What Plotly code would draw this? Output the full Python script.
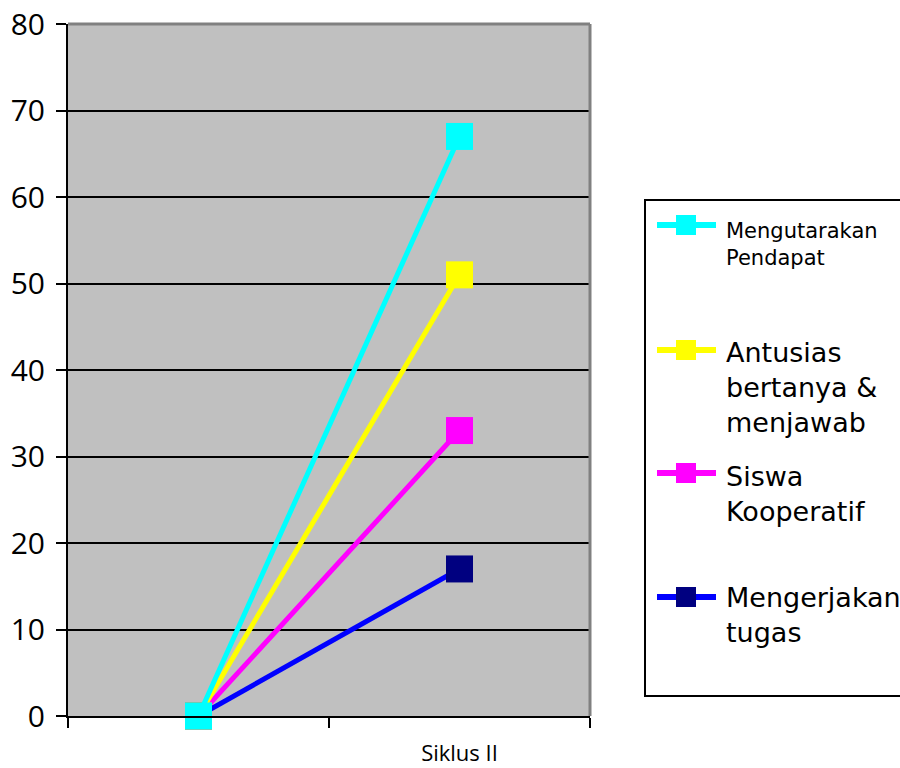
import plotly.graph_objects as go

# Observation cycles on the category axis
cycles = [0, 1]
cycle_labels = ["", "Siklus II"]

# Percentage scores per indicator
series_names = [
    "Mengutarakan<br>Pendapat",
    "Antusias<br>bertanya &<br>menjawab",
    "Siswa<br>Kooperatif",
    "Mengerjakan<br>tugas",
]
mengutarakan = [0, 67]
antusias = [0, 51]
kooperatif = [0, 33]
mengerjakan = [0, 17]

series_values = [mengutarakan, antusias, kooperatif, mengerjakan]
line_colors = ["#00FFFF", "#FFFF00", "#FF00FF", "#0000FF"]
marker_colors = ["#00FFFF", "#FFFF00", "#FF00FF", "#000080"]

# Pixel geometry of the plotting area (900 x 768 canvas)
W, H = 900, 768
L, R, T, B = 68, 590, 24, 716


def px(x):
    return (x - L) / (R - L)


def py(y):
    return (B - y) / (B - T)


fig = go.Figure()

# Draw the last series first so the first one ends up on top
for name, vals, lc, mc in reversed(list(zip(series_names, series_values, line_colors, marker_colors))):
    fig.add_trace(go.Scatter(
        x=cycles, y=vals, mode="lines+markers", name=name,
        line=dict(color=lc, width=5),
        marker=dict(symbol="square", size=27, color=mc, line=dict(width=0)),
        showlegend=False, cliponaxis=False,
    ))

shapes = []
annotations = []

# Gray frame on top and right edges of the plot area
shapes.append(dict(type="line", xref="paper", yref="paper", x0=0, x1=1, y0=1, y1=1,
                   line=dict(color="#808080", width=3), layer="above"))
shapes.append(dict(type="line", xref="paper", yref="paper", x0=1, x1=1, y0=0, y1=1,
                   line=dict(color="#808080", width=3), layer="above"))

# Legend box
shapes.append(dict(type="rect", xref="paper", yref="paper",
                   x0=px(645), x1=px(912), y0=py(696), y1=py(200),
                   line=dict(color="black", width=2), fillcolor="white", layer="above"))

# Legend entries: key centre y, text line centres, font size
legend_rows = [
    (225, 230, 21),
    (350, 352, 27),
    (473, 476, 27),
    (597, 597, 27),
]
for (key_y, text_y, fsize), name, lc, mc in zip(legend_rows, series_names, line_colors, marker_colors):
    shapes.append(dict(type="line", xref="paper", yref="paper",
                       x0=px(657), x1=px(716), y0=py(key_y), y1=py(key_y),
                       line=dict(color=lc, width=6), layer="above"))
    shapes.append(dict(type="rect", xref="paper", yref="paper",
                       x0=px(676), x1=px(696), y0=py(key_y + 10), y1=py(key_y - 10),
                       line=dict(width=0), fillcolor=mc, layer="above"))
    annotations.append(dict(
        text=name, xref="paper", yref="paper",
        x=px(724), y=py(text_y - fsize * 0.62),
        xanchor="left", yanchor="top", align="left", showarrow=False,
        font=dict(family="DejaVu Sans", size=fsize, color="black"),
    ))

fig.update_layout(
    width=W, height=H,
    margin=dict(l=L, r=W - R, t=T, b=H - B, pad=0, autoexpand=False),
    paper_bgcolor="white",
    plot_bgcolor="#C0C0C0",
    shapes=shapes,
    annotations=annotations,
    showlegend=False,
    font=dict(family="Open Sans", color="black"),
)

fig.update_xaxes(
    range=[-0.5, 1.5], automargin=False,
    tickvals=cycles, ticktext=cycle_labels,
    ticks="", showgrid=False, zeroline=False,
    showline=True, linecolor="black", linewidth=2,
    tickfont=dict(family="Open Sans", size=22, color="black"),
    ticklabelstandoff=17,
    minor=dict(tick0=-0.5, dtick=1, ticks="outside", ticklen=10,
               tickwidth=2, tickcolor="black", showgrid=False),
)

fig.update_yaxes(
    range=[0, 80], dtick=10, tick0=0, automargin=False,
    showgrid=True, gridcolor="black", gridwidth=2,
    zeroline=False,
    showline=True, linecolor="black", linewidth=2,
    ticks="outside", ticklen=10, tickwidth=2, tickcolor="black",
    tickfont=dict(family="Open Sans", size=30, color="black"),
    ticklabelstandoff=5,
)

fig.write_html("out.html")
